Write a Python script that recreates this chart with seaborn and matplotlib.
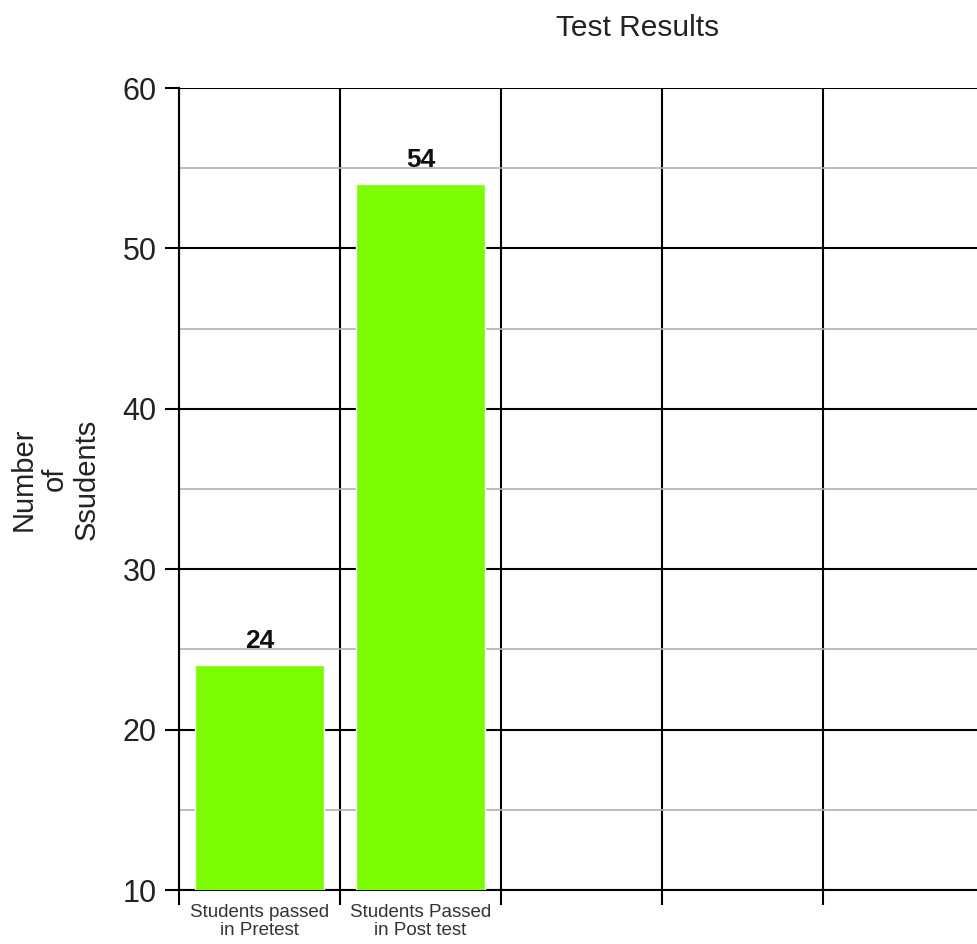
import matplotlib
matplotlib.use("Agg")
import matplotlib.pyplot as plt
import seaborn as sns
import pandas as pd
import numpy as np

# data
categories = ["Students passed\nin Pretest", "Students Passed\nin Post test", "c3", "c4", "c5"]
values = [24, 54]
slot_labels = ["Students passed\nin Pretest", "Students Passed\nin Post test", "", "", ""]

sns.set_style("white")
plt.rcParams["font.family"] = ["Liberation Sans", "DejaVu Sans"]

df = pd.DataFrame({"group": categories[:len(values)], "count": values})

fig = plt.figure(figsize=(9.78, 9.44), dpi=100)
ax = fig.add_axes([179 / 978, 54 / 944, 805 / 978, 802 / 944])

sns.barplot(data=df, x="group", y="count", order=categories, color="#7CFC00",
            saturation=1, width=0.8, ax=ax, zorder=3)

ax.set_ylim(10, 60)
ax.set_xlim(-0.5, len(categories) - 0.5)

# grid: black major lines, grey minor lines
ax.set_yticks(np.arange(10, 61, 10))
ax.set_yticks(np.arange(15, 60, 10), minor=True)
ax.set_xticks(np.arange(-0.5, len(categories), 1.0))
ax.set_xticklabels([])
ax.set_xticks(np.arange(len(categories)), minor=True)
ax.set_xticklabels(slot_labels, minor=True, fontsize=13.5, color="#333333", linespacing=1.05)

ax.grid(True, which="major", color="black", linewidth=1.5, zorder=0)
ax.grid(True, which="minor", axis="y", color="#b0b0b0", linewidth=1.2, zorder=0)
ax.set_axisbelow(True)

ax.tick_params(axis="y", which="major", length=10, width=1.5, color="black",
               labelsize=22, labelcolor="#222222", left=True, pad=6)
ax.tick_params(axis="y", which="minor", length=0, left=False)
ax.tick_params(axis="x", which="major", length=11, width=1.5, color="black", bottom=True)
ax.tick_params(axis="x", which="minor", length=0, pad=10, bottom=True)

for s in ["top", "right"]:
    ax.spines[s].set_visible(False)
for s in ["left", "bottom"]:
    ax.spines[s].set_color("black")
    ax.spines[s].set_linewidth(1.5)

ax.set_xlabel("")
ax.set_ylabel("")

# value labels
for i, v in enumerate(values):
    ax.annotate(str(v), (i, v), xytext=(0, 9), textcoords="offset points",
                ha="center", va="bottom", fontsize=19, fontweight="bold", color="#111111")

fig.text(638 / 978, 1 - 28 / 944, "Test Results", ha="center", va="center",
         fontsize=21.5, color="#222222")
fig.text(55 / 978, 1 - 479 / 944, "Number\nof\nSsudents", ha="center", va="center",
         rotation=90, fontsize=21, color="#222222", multialignment="center",
         linespacing=1.15)

fig.savefig("out.png", dpi=100)
